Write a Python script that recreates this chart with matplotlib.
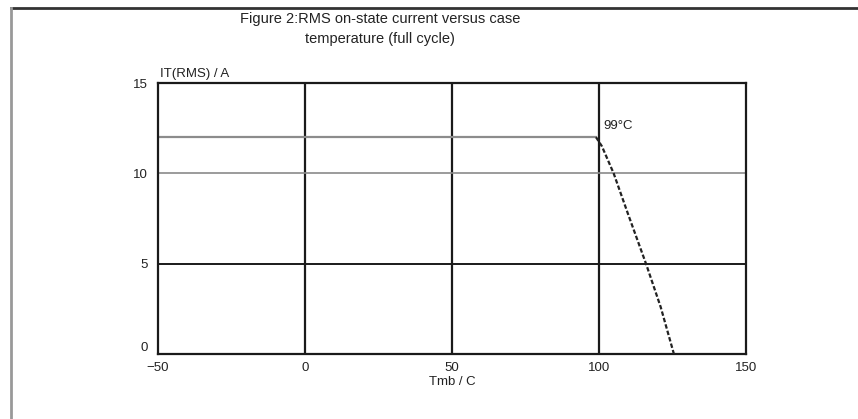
import matplotlib
matplotlib.use("Agg")
import matplotlib.pyplot as plt
from matplotlib.lines import Line2D

plt.rcParams['font.family'] = ['Liberation Sans', 'DejaVu Sans']

# RMS on-state current vs case temperature (full cycle)
flat_temp = [-50, 99]
flat_current = [12, 12]
derate_temp = [99, 101, 105, 110, 116, 121, 125.5]
derate_current = [12, 11.5, 10, 7.7, 5, 2.6, 0]

x_ticks = [-50, 0, 50, 100, 150]
y_ticks = [0, 5, 10, 15]
knee_label = "99°C"

fig = plt.figure(figsize=(8.58, 4.19), dpi=100)
ax = fig.add_axes([0.1841, 0.1551, 0.6853, 0.6468])

ax.set_xlim(-50, 150)
ax.set_ylim(0, 15)

# grid: verticals black, horizontals mixed
for xv in [0, 50, 100]:
    ax.axvline(xv, color='#1a1a1a', lw=1.6, zorder=1)
ax.axhline(5, color='#1a1a1a', lw=1.4, zorder=1)
ax.axhline(10, color='#8a8a8a', lw=1.2, zorder=1)

ax.plot(flat_temp, flat_current, color='#8c8c8c', lw=1.6, zorder=2)
ax.plot(derate_temp, derate_current, color='#222222', lw=1.6,
        linestyle=(0, (2, 1)), zorder=3)

ax.text(101.5, 12.6, knee_label, fontsize=9.5, color='#222222',
        ha='left', va='center')

for s in ax.spines.values():
    s.set_linewidth(1.6)
    s.set_color('#1a1a1a')

ax.set_xticks(x_ticks)
ax.set_yticks(y_ticks)
ax.tick_params(length=0, labelsize=9.5, colors='#222222')
ax.tick_params(axis='x', pad=6)
ax.tick_params(axis='y', pad=7)
ax.set_yticklabels([str(v) for v in y_ticks])
ylabels = ax.get_yticklabels()
ylabels[0].set_va('bottom')

ax.text(0.003, 1.012, "IT(RMS) / A", transform=ax.transAxes, fontsize=9.5,
        ha='left', va='bottom', color='#222222')
ax.set_xlabel("Tmb / C", fontsize=9.5, labelpad=1, color='#222222')

fig.text(0.443, 0.972, "Figure 2:RMS on-state current versus case\ntemperature (full cycle)",
         ha='center', va='top', fontsize=10.5, linespacing=1.55, color='#222222')

# outer frame
fig.add_artist(Line2D([0.0128, 1.0], [0.981, 0.981], transform=fig.transFigure,
                      color='#333333', lw=2))
fig.add_artist(Line2D([0.0128, 0.0128], [0.0, 0.981], transform=fig.transFigure,
                      color='#999999', lw=2))

fig.savefig("out.png", dpi=100)
